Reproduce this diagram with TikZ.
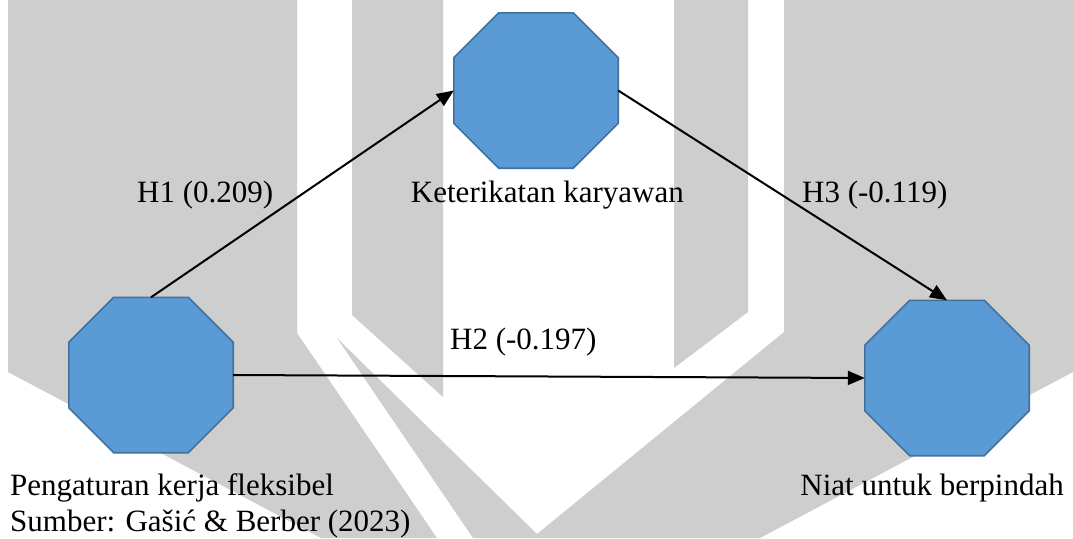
\documentclass[tikz,border=0pt]{standalone}
\usepackage{fontspec}
\setmainfont{Liberation Serif}
\newfontfamily\lblserif{Liberation Serif}
\usetikzlibrary{arrows.meta,calc}
\definecolor{wmgray}{RGB}{206,206,206}
\definecolor{octfill}{HTML}{5B9BD5}
\definecolor{octline}{HTML}{41719C}
\newcommand\octpaint[1]{%
  \filldraw[octstyle]
    ($(#1.north west)+(45,0)$) -- ($(#1.north east)+(-45,0)$) --
    ($(#1.north east)+(0,45)$) -- ($(#1.south east)+(0,-45)$) --
    ($(#1.south east)+(-45,0)$) -- ($(#1.south west)+(45,0)$) --
    ($(#1.south west)+(0,-45)$) -- ($(#1.north west)+(0,45)$) -- cycle;}
\begin{document}
\begin{tikzpicture}[x=1pt,y=-1pt,
  octbox/.style={rectangle,draw=none,minimum width=164pt,minimum height=155pt,inner sep=0pt},
  octstyle/.style={fill=octfill,draw=octline,line width=1.6pt,line join=miter},
  link/.style={line width=2pt,-{Triangle[length=17pt,width=14pt]}},
  lbl/.style={inner sep=0pt,font=\lblserif\fontsize{31}{38}\selectfont},
  wm/.style={fill=wmgray,draw=none}]
\useasboundingbox (0,0) rectangle (1073,538);
\fill[white] (0,0) rectangle (1073,538);
% watermark
\path[wm] (8,0) -- (297,0) -- (297,333) -- (437,538) -- (321,538) -- (8,372) -- cycle;
\path[wm] (352,0) -- (443,0) -- (443,397) -- (352,315) -- cycle;
\path[wm] (674,0) -- (748,0) -- (748,312) -- (674,368) -- cycle;
\path[wm] (337,338) -- (537,534) -- (784,332) -- (784,0) -- (1073,0) -- (1073,372) -- (760,538) -- (473,538) -- cycle;
% nodes
\node[octbox] (ko) at (536,90.5) {};
\node[octbox] (pk) at (151,375) {};
\node[octbox] (ro) at (947,378) {};
\octpaint{ko}
\octpaint{pk}
\octpaint{ro}
% connectors
\draw[link] (pk.north) -- (ko.west);
\draw[link] (ko.east) -- (ro.north);
\draw[link] (pk.east) -- (ro.west);
% labels
\node[lbl,anchor=base west] (h1) at (137,202) {H1 (0.209)};
\node[lbl,anchor=base east] (kl) at (684,202) {Keterikatan karyawan};
\node[lbl,anchor=base west] (h3) at (802,202) {H3 (-0.119)};
\node[lbl,anchor=base west] (h2) at (450,349) {H2 (-0.197)};
\node[lbl,anchor=base west] (pl) at (10,495) {Pengaturan kerja fleksibel};
\node[lbl,anchor=base west] (src) at (10,531) {Sumber: Gašić \& Berber (2023)};
\node[lbl,anchor=base east] (nl) at (1064,495) {Niat untuk berpindah};
\end{tikzpicture}
\end{document}
